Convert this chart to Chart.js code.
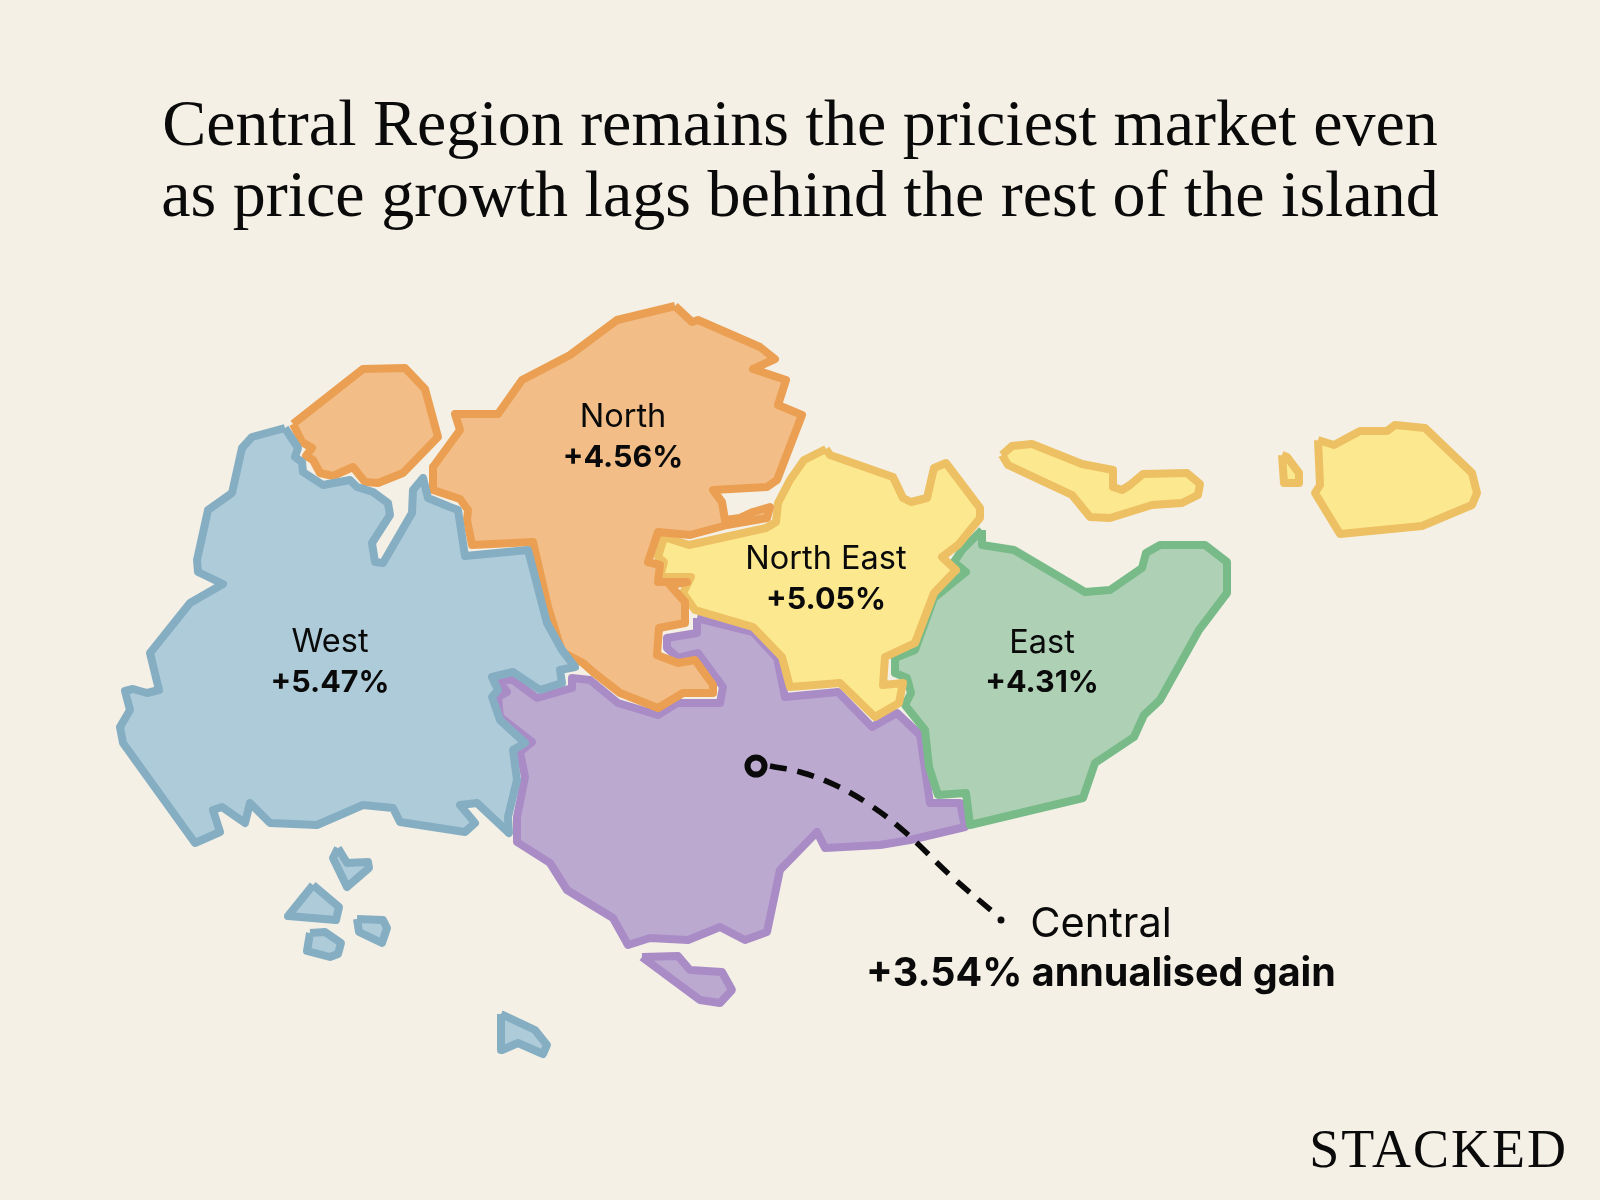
<!DOCTYPE html>
<html>
<head>
<meta charset="utf-8">
<title>Central Region</title>
<script src="https://cdn.jsdelivr.net/npm/chart.js@4"></script>
<style>
  html, body { margin: 0; padding: 0; background: #f4f0e5; overflow: hidden; }
  canvas { display: block; }
</style>
</head>
<body>
<canvas id="map" width="1600" height="1200"></canvas>
<script>
// Region outlines (map units = image pixels)
const west = [[285,428],[252,437],[242,448],[232,493],[208,510],[197,560],[198,572],[223,584],[190,603],[150,653],[159,690],[147,693],[133,689],[125,691],[130,710],[120,727],[123,743],[195,843],[220,832],[213,810],[222,807],[245,823],[250,803],[270,823],[317,825],[363,805],[393,808],[400,822],[465,832],[475,823],[460,805],[477,803],[509,833],[508,817],[517,780],[513,750],[525,743],[500,720],[492,697],[498,690],[492,677],[513,672],[540,690],[562,683],[560,670],[575,667],[562,650],[547,623],[528,550],[465,556],[458,510],[450,507],[428,498],[423,478],[413,490],[412,513],[383,563],[375,562],[372,543],[390,515],[388,503],[373,492],[357,487],[350,480],[323,485],[303,472],[302,462],[295,457],[298,448],[285,428]];
const westIslandA = [[338,848],[347,863],[368,862],[369,868],[347,887],[333,858],[338,848]];
const westIslandB = [[313,885],[339,907],[336,920],[288,916],[313,885]];
const westIslandC = [[310,933],[325,932],[341,943],[338,954],[330,957],[307,951],[310,933]];
const westIslandD = [[357,919],[383,920],[387,928],[382,943],[359,932],[357,919]];
const westIslandE = [[501,1014],[535,1030],[547,1045],[543,1054],[518,1043],[502,1050],[501,1014]];

const north = [[675,306],[617,320],[570,355],[522,380],[498,414],[455,414],[460,430],[433,467],[433,490],[460,499],[468,510],[467,520],[472,545],[533,542],[548,607],[562,652],[583,663],[593,672],[620,693],[658,708],[683,693],[713,693],[713,685],[695,660],[678,663],[657,655],[659,628],[685,623],[685,602],[670,585],[687,582],[658,582],[660,565],[648,562],[658,532],[690,535],[727,525],[767,518],[770,507],[753,512],[740,518],[725,520],[722,502],[713,490],[767,487],[777,480],[802,415],[778,405],[786,380],[753,369],[775,359],[760,347],[698,320],[692,322],[675,306]];
const northIsland = [[293,424],[363,369],[405,368],[425,389],[438,437],[403,473],[378,483],[365,482],[353,467],[333,476],[320,473],[313,460],[306,456],[312,448],[302,442],[293,424]];

const northEast = [[826,449],[804,460],[790,480],[778,503],[776,522],[766,528],[689,545],[664,537],[658,557],[664,562],[660,577],[691,577],[683,593],[695,610],[753,627],[782,657],[790,687],[840,683],[875,717],[899,703],[903,683],[883,685],[885,657],[915,643],[934,593],[956,570],[942,557],[958,545],[980,518],[980,508],[946,463],[934,468],[927,498],[911,502],[903,498],[893,477],[830,455],[826,449]];
const northEastIslandA = [[1002,455],[1012,446],[1032,444],[1082,464],[1113,470],[1113,487],[1122,490],[1130,485],[1143,474],[1187,473],[1200,484],[1198,495],[1182,503],[1152,505],[1110,518],[1090,517],[1072,495],[1008,465],[1002,455]];
const northEastIslandB = [[1282,455],[1287,457],[1299,473],[1299,483],[1284,483],[1282,455]];
const northEastIslandC = [[1318,440],[1334,445],[1360,431],[1387,431],[1395,425],[1425,428],[1472,473],[1477,493],[1472,505],[1422,526],[1340,534],[1315,493],[1320,485],[1318,440]];

const east = [[982,530],[962,550],[954,562],[966,572],[934,598],[915,650],[895,658],[895,673],[907,678],[911,693],[905,705],[925,730],[929,767],[938,795],[966,793],[970,825],[1083,798],[1095,763],[1134,737],[1144,715],[1160,700],[1199,630],[1227,593],[1227,562],[1205,545],[1160,545],[1146,553],[1142,568],[1110,590],[1085,592],[1014,550],[982,545],[982,530]];

const central = [[697,618],[753,632],[777,658],[785,697],[838,692],[872,727],[897,713],[920,735],[930,803],[960,803],[965,827],[910,840],[880,845],[825,848],[817,832],[780,870],[767,932],[745,940],[720,927],[688,940],[650,938],[628,945],[613,918],[567,890],[550,863],[517,842],[517,817],[525,777],[520,752],[532,742],[500,717],[498,697],[507,692],[498,680],[513,680],[537,698],[572,688],[572,678],[590,680],[618,703],[658,715],[677,703],[720,703],[723,687],[698,653],[678,658],[667,648],[667,638],[697,633],[697,618]];
const centralIsland = [[642,957],[678,956],[690,970],[722,972],[732,990],[720,1003],[700,1000],[642,957]];

// Leader from the Central region to its callout
const leaderLine = [[770,766],[800,772],[835,785],[870,805],[905,832],[950,875],[993,912]];
const leaderStart = [[756,766]];
const leaderEnd = [[1001,920]];

// Text
const titleLines = ['Central Region remains the priciest market even', 'as price growth lags behind the rest of the island'];
const regionNames = ['West', 'North', 'North East', 'East'];
const regionGains = ['+5.47%', '+4.56%', '+5.05%', '+4.31%'];
const labelX = [330, 623, 826, 1042];
const nameY = [641, 416, 558, 642];
const gainY = [681, 456, 598, 681];
const calloutName = 'Central';
const calloutGain = '+3.54% annualised gain';
const brand = 'STACKED';

const BG = '#f4f0e5';
const INK = '#0a0a0a';

function shape(points, fillColor, lineColor) {
    return {
        data: points,
        showLine: true,
        fill: 'shape',
        backgroundColor: fillColor,
        borderColor: lineColor,
        borderWidth: 8,
        borderJoinStyle: 'round',
        pointRadius: 0,
        tension: 0,
        clip: false
    };
}

const WEST_C = ['#aecbd9', '#85aec3'];
const NORTH_C = ['#f2bd86', '#eb9f52'];
const NE_C = ['#fce88f', '#edc063'];
const EAST_C = ['#aed0b5', '#78bb89'];
const CENTRAL_C = ['#bca9d0', '#a98cc6'];

// Draws title, labels and brand at map positions
const textPlugin = {
    id: 'mapText',
    afterDatasetsDraw(chart) {
        const { ctx, scales: { x, y } } = chart;
        const put = (text, px, py, font, align = 'center', spacing = '0px') => {
            ctx.font = font;
            ctx.letterSpacing = spacing;
            ctx.textAlign = align;
            ctx.textBaseline = 'alphabetic';
            ctx.fillStyle = INK;
            ctx.fillText(text, x.getPixelForValue(px), y.getPixelForValue(py));
        };
        ctx.save();
        put(titleLines[0], 800, 145, '400 66px "Liberation Serif"');
        put(titleLines[1], 800, 216, '400 66px "Liberation Serif"');
        regionNames.forEach((name, i) => {
            put(name, labelX[i], nameY[i] + 11, '400 32.5px Inter');
            put(regionGains[i], labelX[i], gainY[i] + 11, '700 30.5px Inter');
        });
        put(calloutName, 1101, 937, '400 41.5px Inter');
        put(calloutGain, 1101, 986, '700 39.5px Inter');
        put(brand, 1568, 1167, '400 54px "Liberation Serif"', 'right', '2px');
        ctx.restore();
    }
};

new Chart(document.getElementById('map').getContext('2d'), {
    type: 'scatter',
    data: {
        datasets: [
            { data: leaderStart, pointRadius: 8.5, pointBorderWidth: 6, pointBorderColor: INK, pointBackgroundColor: 'rgba(0,0,0,0)', clip: false },
            { data: leaderEnd, pointRadius: 3.5, pointBorderWidth: 0, pointBackgroundColor: INK, clip: false },
            { data: leaderLine, showLine: true, borderColor: INK, borderWidth: 5.5, borderDash: [17, 11], tension: 0.4, pointRadius: 0, clip: false },
            shape(west, ...WEST_C),
            shape(westIslandA, ...WEST_C),
            shape(westIslandB, ...WEST_C),
            shape(westIslandC, ...WEST_C),
            shape(westIslandD, ...WEST_C),
            shape(westIslandE, ...WEST_C),
            shape(north, ...NORTH_C),
            shape(northIsland, ...NORTH_C),
            shape(northEast, ...NE_C),
            shape(northEastIslandA, ...NE_C),
            shape(northEastIslandB, ...NE_C),
            shape(northEastIslandC, ...NE_C),
            shape(east, ...EAST_C),
            shape(central, ...CENTRAL_C),
            shape(centralIsland, ...CENTRAL_C)
        ]
    },
    options: {
        responsive: false,
        animation: false,
        devicePixelRatio: 1,
        layout: { padding: 0, autoPadding: false },
        scales: {
            x: { type: 'linear', display: false, min: 0, max: 1600 },
            y: { type: 'linear', display: false, min: 0, max: 1200, reverse: true }
        },
        plugins: { legend: { display: false }, tooltip: { enabled: false } }
    },
    plugins: [textPlugin, {
        id: 'paper',
        beforeDraw(chart) {
            chart.ctx.save();
            chart.ctx.fillStyle = BG;
            chart.ctx.fillRect(0, 0, chart.width, chart.height);
            chart.ctx.restore();
        }
    }]
});
</script>
</body>
</html>
